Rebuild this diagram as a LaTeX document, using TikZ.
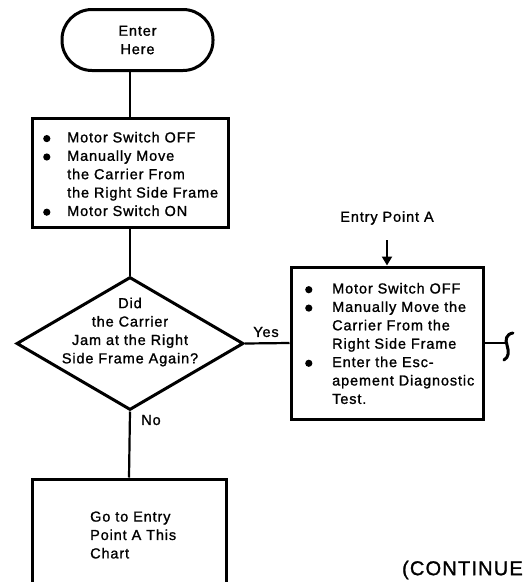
\documentclass[tikz,border=0pt]{standalone}
\usepackage{fontspec}
\setmainfont{Liberation Sans}[LetterSpace=6, FakeBold=1.2]
\usetikzlibrary{shapes.geometric,arrows.meta}
\newcommand{\chartfont}{\fontsize{14.5}{18.4}\selectfont}
% list marker: a filled disc in a box of the given width
\newcommand{\bigdot}[1]{\makebox[#1][l]{\tikz[baseline=-3.8pt]\fill (0,0) circle (3.6pt);}}
\begin{document}
\begin{tikzpicture}[x=1pt,y=-1pt,
  frame/.style={draw, line width=3pt, inner sep=0pt},
  flowline/.style={line width=2.2pt},
  label/.style={font=\chartfont, inner sep=0pt, align=left},
  ]
\useasboundingbox (0,0) rectangle (524,582);
\clip (0,0) rectangle (524,582);

% start terminal
\node[frame, rounded corners=30pt, minimum width=151pt, minimum height=61pt,
      font=\chartfont, align=center] (start) at (137.5,40) {Enter\\Here};

% first action box
\node[frame, minimum width=196pt, minimum height=109pt] (box1) at (130,172.5) {};
\node[label, anchor=west] (t1) at (43,174) {%
  \bigdot{24pt}Motor Switch OFF\\
  \bigdot{24pt}Manually Move\\
  \hspace*{24pt}the Carrier From\\
  \hspace*{24pt}the Right Side Frame\\
  \bigdot{24pt}Motor Switch ON};

% decision
\node[frame, diamond, minimum width=227pt, minimum height=133pt] (dia) at (130,343.5) {};
\node[label, align=center] (dtext) at (130,332) {Did\\the Carrier\\Jam at the Right\\Side Frame Again?};

% entry point A box
\node[frame, minimum width=192pt, minimum height=152pt] (box2) at (387,343) {};
\node[label, anchor=west] (t2) at (305,343.5) {%
  \bigdot{27pt}Motor Switch OFF\\
  \bigdot{27pt}Manually Move the\\
  \hspace*{27pt}Carrier From the\\
  \hspace*{27pt}Right Side Frame\\
  \bigdot{27pt}Enter the Esc-\\
  \hspace*{27pt}apement Diagnostic\\
  \hspace*{27pt}Test.};
\node[label, align=center] (entry) at (387,218) {Entry Point A};
\coordinate (entrytail) at (387,240);

% final box (runs off the page bottom)
\node[frame, minimum width=194pt, minimum height=125pt] (box3) at (129,541.5) {};
\node[label, anchor=west] (t3) at (90,535) {%
  \fontsize{14.5}{17.5}\selectfont Go to Entry\\Point A This\\Chart};

% connectors
\draw[flowline] (box1.north) -- (box1.north |- start.south);
\draw[flowline] (box1.south) -- (dia.north);
\draw[flowline] (dia.south) -- (box3.north);
\draw[flowline] (dia.east) -- (box2.west);
\draw[flowline, -{Triangle[length=9pt, width=10pt]}] (entrytail) -- (box2.north);
\coordinate (brk) at (506,343);
\draw[flowline] (box2.east) -- (brk);
% break mark on the outgoing line
\draw[line width=3pt, line cap=round]
  (513,333) .. controls (506,334) and (505,340) .. (507,345)
  .. controls (509,352) and (509,357) .. (504,360);

\node[label] (yes) at (266,332) {Yes};
\node[label] (no) at (151,420) {No};
\node[inner sep=0pt, anchor=east, font=\fontsize{20}{22}\selectfont] (cont) at (523,570) {(CONTINUE};
\end{tikzpicture}
\end{document}
